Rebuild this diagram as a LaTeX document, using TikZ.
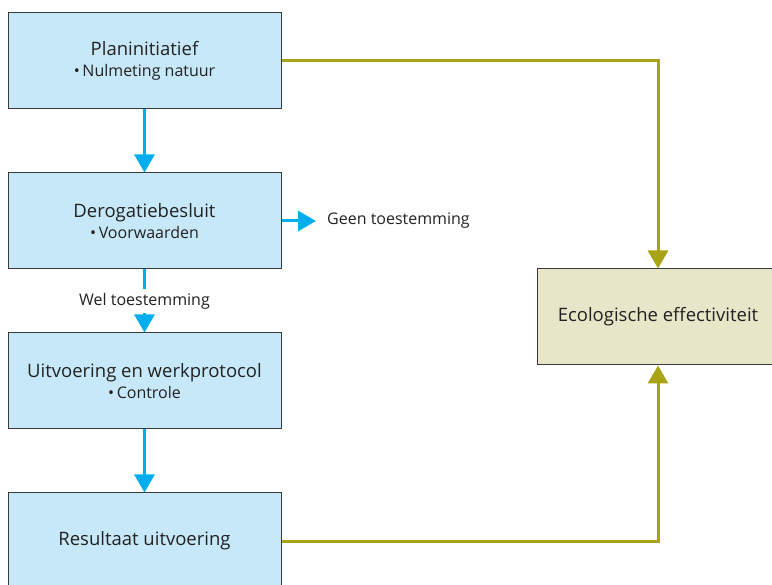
\documentclass[tikz,border=0pt]{standalone}
\usepackage{fontspec}
\setmainfont{Open Sans}
\usepackage{tikz}
\definecolor{StepBlue}{HTML}{C7E8F8}
\definecolor{LinkBlue}{HTML}{00AEEF}
\definecolor{LinkOlive}{HTML}{A9A415}
\definecolor{EffFill}{HTML}{E7E6C9}
\definecolor{BoxEdge}{HTML}{3A3A3A}
\definecolor{TextGray}{HTML}{222222}
\usetikzlibrary{arrows.meta,positioning}
\tikzset{%
  stepbox/.style={rectangle,draw=BoxEdge,line width=1pt,fill=#1,minimum width=273pt,minimum height=96pt,
    align=center,text=TextGray,inner sep=0pt,font=\fontsize{18.5}{24}\selectfont},
  link/.style={-{Triangle[width=20pt,length=18pt]},line width=3pt,draw=LinkBlue},
  olive link/.style={-{Triangle[width=20pt,length=18pt]},line width=3pt,draw=LinkOlive},
  label text/.style={text=TextGray,font=\fontsize{16}{18}\selectfont,inner sep=0pt}
}
\newcommand{\subline}[1]{\\[-3pt]{\fontsize{16}{18}\selectfont\textbullet\,#1}}
\begin{document}
\begin{tikzpicture}[x=1pt,y=-1pt]
 \useasboundingbox (0,0) rectangle (772,585);
 \clip (0,0) rectangle (772,585);

 \node[stepbox=StepBlue] (plan) at (144.5,61) {Planinitiatief\subline{Nulmeting natuur}};
 \node[stepbox=StepBlue] (besluit) at (144.5,221) {Derogatiebesluit\subline{Voorwaarden}};
 \node[stepbox=StepBlue] (uitv) at (144.5,381) {Uitvoering en werkprotocol\subline{Controle}};
 \node[stepbox=StepBlue] (result) at (144.5,541) {Resultaat uitvoering};
 \node[stepbox=EffFill, minimum width=242pt] (eco) at (658,317) {Ecologische effectiviteit};

 \node[label text, anchor=west] (geen) at (327,221) {Geen toestemming};

 \draw[link] (plan) to (besluit);
 \draw[link] (besluit) to node[label text, fill=white, inner ysep=4pt] (wel) {Wel toestemming} (uitv);
 \draw[link] (uitv) to (result);
 \draw[link, shorten >=11pt] (besluit) to (geen);

 \draw[olive link] (plan.east) -| (eco.north);
 \draw[olive link] (result.east) -| (eco.south);

\end{tikzpicture}
\end{document}
